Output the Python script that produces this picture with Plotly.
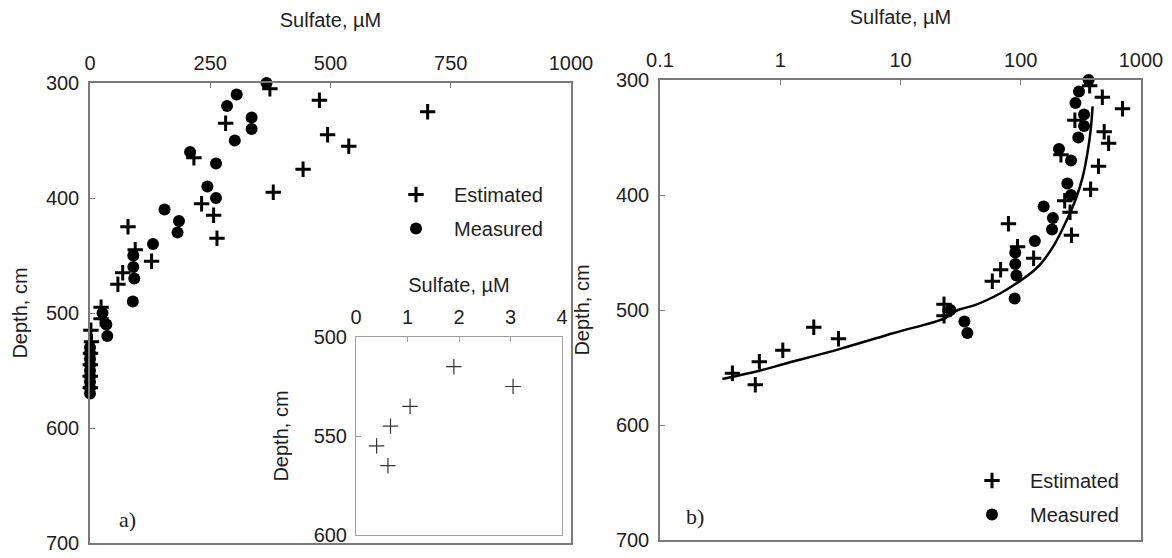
import plotly.graph_objects as go

# Estimated sulfate profile (depth in cm, sulfate in µM)
est_depth = [305, 315, 325, 335, 345, 355, 365, 375, 395, 405, 415, 425, 435,
             445, 455, 465, 475, 495, 505, 515, 525, 535, 545, 555, 565]
est_sulfate = [374, 477, 702, 282, 494, 538, 216, 443, 381, 232, 257, 79, 264,
               94, 128, 68, 58, 23, 23, 1.9, 3.05, 1.05, 0.67, 0.4, 0.62]

# Measured sulfate profile
meas_depth = [300, 310, 320, 330, 340, 350, 360, 370, 390, 400, 410, 420, 430,
              440, 450, 460, 470, 490, 500, 510, 520,
              530, 535, 540, 545, 550, 555, 560, 565, 570]
meas_sulfate = [367, 305, 285, 336, 336, 301, 208, 262, 244, 262, 155, 185, 182,
                131, 90, 90, 92, 89, 26, 34, 36,
                0, 0, 0, 0, 0, 0, 0, 0, 0]

# Model curve shown on the log panel
curve_sulfate = [396, 381, 358, 328, 288, 241, 193, 149, 131, 101, 69, 41, 30,
                 23.5, 8.8, 3.1, 1.07, 0.66, 0.33]
curve_depth = [323, 344, 364, 384, 403, 422, 442, 459, 465, 474, 485, 496, 500,
               507, 520, 534, 547, 553, 560]

# Inset: deep estimated values (< 4 µM)
inset_depth = [d for d, s in zip(est_depth, est_sulfate) if s < 4]
inset_sulfate = [s for s in est_sulfate if s < 4]

# Axis ticks
lin_ticks = [0, 250, 500, 750, 1000]
log_ticks = [0.1, 1, 10, 100, 1000]
log_ticktext = ["0.1", "1", "10", "100", "1000"]
depth_ticks = [300, 400, 500, 600, 700]
inset_xticks = [0, 1, 2, 3, 4]
inset_yticks = [500, 550, 600]

FONT = "Liberation Sans, Arial, sans-serif"
SERIF = "Liberation Serif, Times New Roman, serif"
TXT = "#1e1e1e"
AX = "#7a7a7a"
FS = 20

cross = dict(symbol="cross-thin-open", size=11, color="black",
             line=dict(width=3, color="black"))
dot = dict(symbol="circle", size=12, color="black", line=dict(width=0))

fig = go.Figure()

# Panel a (linear)
fig.add_trace(go.Scatter(x=est_sulfate, y=est_depth, mode="markers", marker=cross,
                         name="Estimated", xaxis="x", yaxis="y", cliponaxis=False,
                         legend="legend", legendgroup="a1"))
fig.add_trace(go.Scatter(x=meas_sulfate, y=meas_depth, mode="markers", marker=dot,
                         name="Measured", xaxis="x", yaxis="y", cliponaxis=False,
                         legend="legend", legendgroup="a2"))

# Panel b (log)
pos_d = [d for d, s in zip(meas_depth, meas_sulfate) if s > 0]
pos_s = [s for s in meas_sulfate if s > 0]
fig.add_trace(go.Scatter(x=curve_sulfate, y=curve_depth, mode="lines",
                         line=dict(color="black", width=2.5, shape="spline"),
                         xaxis="x2", yaxis="y2", showlegend=False))
fig.add_trace(go.Scatter(x=est_sulfate, y=est_depth, mode="markers", marker=cross,
                         name="Estimated", xaxis="x2", yaxis="y2", cliponaxis=False,
                         legend="legend2", legendgroup="b1"))
fig.add_trace(go.Scatter(x=pos_s, y=pos_d, mode="markers", marker=dot,
                         name="Measured", xaxis="x2", yaxis="y2", cliponaxis=False,
                         legend="legend2", legendgroup="b2"))

# Inset
fig.add_trace(go.Scatter(x=inset_sulfate, y=inset_depth, mode="markers",
                         marker=dict(symbol="cross-thin-open", size=11, color="#333",
                                     line=dict(width=1.2, color="#333")),
                         xaxis="x3", yaxis="y3", showlegend=False))

W, H = 1172, 558


def px_x(a, b):
    return [a / W, b / W]


def px_y(top, bottom):
    return [1 - bottom / H, 1 - top / H]


axis_common = dict(showline=True, linecolor=AX, linewidth=1.5, mirror=True,
                   ticks="inside", ticklen=5, tickcolor=AX, showgrid=False,
                   zeroline=False, automargin=False, ticklabelstandoff=5,
                   tickfont=dict(size=FS, color=TXT, family=FONT))
top_axis = {**axis_common, "ticklabelstandoff": 3}
inset_axis = {**axis_common, "linecolor": "#a0a0a0", "linewidth": 1,
              "tickcolor": "#a0a0a0", "ticklabelstandoff": 4}

fig.update_layout(
    template="none",
    width=W, height=H,
    margin=dict(l=0, r=0, t=0, b=0, autoexpand=False),
    paper_bgcolor="white", plot_bgcolor="white",
    font=dict(family=FONT, size=FS, color=TXT),
    xaxis=dict(domain=px_x(90, 571), range=[0, 1000], side="top", anchor="y",
               tickvals=lin_ticks,
               title=dict(text="Sulfate, µM", standoff=19, font=dict(size=FS)),
               **top_axis),
    yaxis=dict(domain=px_y(83, 543), range=[700, 300], anchor="x",
               tickvals=depth_ticks,
               title=dict(text="Depth, cm", standoff=13, font=dict(size=FS)),
               **axis_common),
    xaxis2=dict(domain=px_x(660, 1141), type="log", range=[-1, 3], side="top",
                anchor="y2", tickvals=log_ticks, ticktext=log_ticktext,
                title=dict(text="Sulfate, µM", standoff=19, font=dict(size=FS)),
                **top_axis),
    yaxis2=dict(domain=px_y(80, 540), range=[700, 300], anchor="x2",
                tickvals=depth_ticks,
                title=dict(text="Depth, cm", standoff=21, font=dict(size=FS)),
                **axis_common),
    xaxis3=dict(domain=px_x(356, 562), range=[0, 4], side="top", anchor="y3",
                tickvals=inset_xticks,
                title=dict(text="Sulfate, µM", standoff=8, font=dict(size=FS)),
                **inset_axis),
    yaxis3=dict(domain=px_y(337, 535), range=[600, 500], anchor="x3",
                tickvals=inset_yticks,
                title=dict(text="Depth, cm", standoff=19, font=dict(size=FS)),
                **inset_axis),
    legend=dict(x=378 / W, y=1 - 175 / H, xanchor="left", yanchor="top",
                bgcolor="rgba(0,0,0,0)", font=dict(size=FS, color=TXT),
                tracegroupgap=5, itemwidth=66),
    legend2=dict(x=954 / W, y=1 - 461 / H, xanchor="left", yanchor="top",
                 bgcolor="rgba(0,0,0,0)", font=dict(size=FS, color=TXT),
                 tracegroupgap=5, itemwidth=66),
    annotations=[
        dict(text="a)", x=127 / W, y=1 - 519 / H, xref="paper", yref="paper",
             xanchor="center", yanchor="middle", showarrow=False,
             font=dict(family=SERIF, size=22, color=TXT)),
        dict(text="b)", x=695 / W, y=1 - 516 / H, xref="paper", yref="paper",
             xanchor="center", yanchor="middle", showarrow=False,
             font=dict(family=SERIF, size=22, color=TXT)),
    ],
)

fig.write_html("out.html")
